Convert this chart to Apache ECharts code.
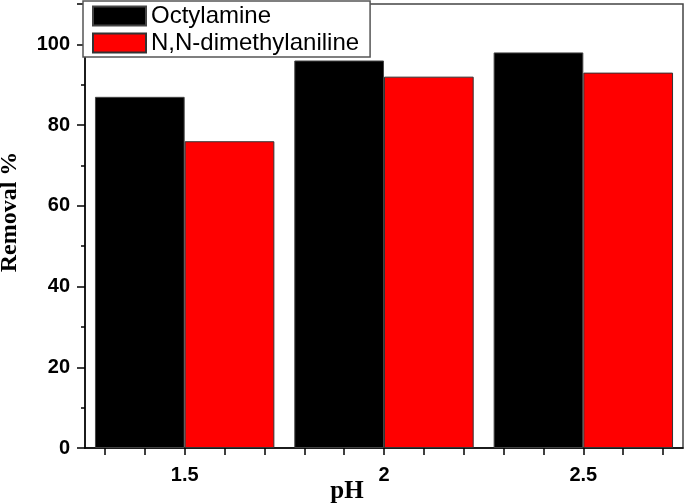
<!DOCTYPE html>
<html>
<head>
<meta charset="utf-8">
<script src="https://cdn.jsdelivr.net/npm/echarts@6/dist/echarts.min.js"></script>
<style>
html,body{margin:0;padding:0;background:#fff;}
#c{width:685px;height:503px;}
</style>
</head>
<body>
<div id="c"></div>
<script>
const categories = ['1.5', '2', '2.5'];
const octylamine = [87, 96, 98];
const dimethylaniline = [76, 92, 93];
const xTickValues = [1.3, 1.4, 1.5, 1.6, 1.7, 1.8, 1.9, 2.0, 2.1, 2.2, 2.3, 2.4, 2.5, 2.6, 2.7];
const xLabelValues = [1.5, 2, 2.5];
const yLabelValues = [0, 20, 40, 60, 80, 100];

const chart = echarts.init(document.getElementById('c'));
chart.setOption({
  animation: false,
  backgroundColor: '#fff',
  grid: {left: 85, right: 2, top: 4, bottom: 55, outerBoundsMode: 'none', containLabel: false, show: true, borderColor: '#444', borderWidth: 1.5, backgroundColor: 'transparent'},
  legend: {
    left: 83, top: 1, orient: 'vertical', icon: 'rect',
    backgroundColor: '#fff', borderColor: '#555', borderWidth: 1.5,
    padding: [3, 11, 2, 9], itemGap: 3, itemWidth: 53, itemHeight: 19,
    textStyle: {fontFamily: 'Liberation Sans', fontSize: 24, lineHeight: 24, color: '#000'},
    data: ['Octylamine', 'N,N-dimethylaniline']
  },
  xAxis: [
    {type: 'category', data: categories, show: false, boundaryGap: true},
    {
      type: 'value', min: 1.25, max: 2.75, position: 'bottom',
      name: 'pH', nameLocation: 'middle', nameGap: 31, nameMoveOverlap: false,
      nameTextStyle: {fontFamily: 'Liberation Serif', fontWeight: 'bold', fontSize: 25, color: '#000', padding: [0, 74, 0, 0]},
      axisLine: {show: true, lineStyle: {color: '#000', width: 1.5}},
      axisTick: {show: true, inside: false, length: 7, customValues: xTickValues, lineStyle: {color: '#000', width: 1.5}},
      axisLabel: {customValues: xLabelValues, margin: 17, fontFamily: 'Liberation Sans', fontWeight: 'bold', fontSize: 20, color: '#000'},
      splitLine: {show: false}
    }
  ],
  yAxis: {
    type: 'value', min: 0, max: 110, interval: 20,
    name: 'Removal %', nameLocation: 'middle', nameGap: 63, nameRotate: 90, nameMoveOverlap: false,
    nameTextStyle: {fontFamily: 'Liberation Serif', fontWeight: 'bold', fontSize: 24, color: '#000', padding: [0, 0, 0, 28]},
    axisLine: {show: true, lineStyle: {color: '#000', width: 1.5}},
    axisTick: {show: true, length: 8, lineStyle: {color: '#000', width: 1.5}},
    minorTick: {show: true, splitNumber: 2, length: 4, lineStyle: {color: '#000', width: 1.5}},
    axisLabel: {customValues: yLabelValues, margin: 15, fontFamily: 'Liberation Sans', fontWeight: 'bold', fontSize: 20, color: '#000'},
    splitLine: {show: false}
  },
  series: [
    {name: 'Octylamine', type: 'bar', xAxisIndex: 0, data: octylamine, barGap: '0%', barCategoryGap: '10%',
      itemStyle: {color: '#000', borderColor: '#444', borderWidth: 1}},
    {name: 'N,N-dimethylaniline', type: 'bar', xAxisIndex: 0, data: dimethylaniline, barGap: '0%', barCategoryGap: '10%',
      itemStyle: {color: '#ff0000', borderColor: '#333', borderWidth: 1}}
  ]
});
</script>
</body>
</html>
